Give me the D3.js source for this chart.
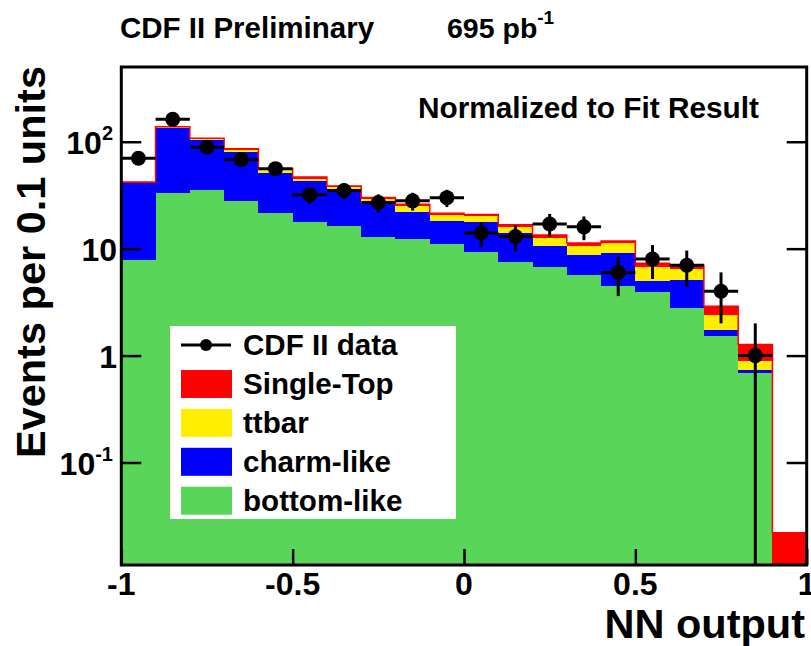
<!DOCTYPE html>
<html>
<head>
<meta charset="utf-8">
<script src="https://cdn.jsdelivr.net/npm/d3@7"></script>
<style>
  body { margin: 0; background: #fff; }
  svg text { font-family: "Liberation Sans", Arial, Helvetica, sans-serif; font-weight: bold; fill: #000; }
</style>
</head>
<body>
<div id="chart"></div>
<script>
// bins of NN output (lower edges, width 0.1)
var binLow = [-1, -0.9, -0.8, -0.7, -0.6, -0.5, -0.4, -0.3, -0.2, -0.1,
              0, 0.1, 0.2, 0.3, 0.4, 0.5, 0.6, 0.7, 0.8, 0.9];
var binWidth = 0.1;

// stacked components (per bin, not cumulative)
var bottomLike = [7.8, 33, 35, 28, 21.6, 17.8, 16.2, 12.9, 12.4, 11, 9.3, 7.5, 6.8, 5.7, 4.5, 3.9, 2.8, 1.54, 0.69, 0];
var charmLike  = [33.2, 102, 68, 53, 29.4, 25.4, 19.3, 13.2, 9.6, 7.2, 8.5, 6.4, 3.7, 3.0, 4.7, 1.1, 2.3, 0.21, 0.04, 0];
var ttbar      = [0.5, 1.5, 3, 3, 3, 2.1, 2.1, 3.2, 3.3, 2.5, 2.5, 2.2, 2.2, 2.0, 2.0, 1.7, 1.3, 0.63, 0.16, 0];
var singleTop  = [0.5, 1.5, 2, 2, 2, 1.4, 0.9, 0.8, 0.7, 0.7, 0.6, 0.6, 0.7, 0.6, 0.6, 0.6, 0.6, 0.52, 0.38, 0.022];

// CDF II data points and errors
var dataVals = [70, 162, 89, 68, 56, 32, 35, 27, 28, 30, 14, 13, 17, 16, 6, 8, 7, 4, 1, null];
var dataErr  = [8.4, 12.7, 9.4, 8.2, 7.5, 5.7, 5.9, 5.2, 5.3, 5.5, 3.7, 3.6, 4.1, 4, 2.4, 2.8, 2.6, 2, 1, null];

var xMajor = [-1, -0.5, 0, 0.5, 1];
var xTickLabels = ["-1", "-0.5", "0", "0.5", "1"];
var yTickVals = [0.1, 1, 10, 100];
var yTickBase = ["10", "1", "10", "10"];
var yTickExp  = ["-1", "", "", "2"];

var seriesKeys = ["bottom", "charm", "ttbar", "single"];
var seriesNames = {bottom: "bottom-like", charm: "charm-like", ttbar: "ttbar", single: "Single-Top"};
var colors = {bottom: "#59d659", charm: "#0000ff", ttbar: "#ffee00", single: "#ff0000"};

var W = 811, H = 646;
var margin = {top: 67, right: 4.3, bottom: 81, left: 121.3};

var svg = d3.select("#chart").append("svg")
  .attr("width", W)
  .attr("height", H);

var x = d3.scaleLinear().domain([-1, 1]).range([margin.left, W - margin.right]);
var y = d3.scaleLog().domain([0.011, 500]).range([H - margin.bottom, margin.top]).clamp(true);

var table = binLow.map(function(b, i) {
  return {lo: b, bottom: bottomLike[i], charm: charmLike[i], ttbar: ttbar[i], single: singleTop[i]};
});
var stacked = d3.stack().keys(seriesKeys)(table);

// stacked fills
svg.append("g").selectAll("g")
  .data(stacked)
  .enter().append("g")
    .attr("fill", function(d) { return colors[d.key]; })
  .selectAll("rect")
  .data(function(d) { return d; })
  .enter().append("rect")
    .attr("shape-rendering", "crispEdges")
    .attr("x", function(d) { return x(d.data.lo); })
    .attr("width", function(d) { return x(d.data.lo + binWidth) - x(d.data.lo); })
    .attr("y", function(d) { return y(d[1]); })
    .attr("height", function(d) { return Math.max(0, y(d[0]) - y(d[1])); });

// red outline of total
var total = stacked[stacked.length - 1];
var outlinePts = [[x(-1), y.range()[0]]];
total.forEach(function(d) {
  outlinePts.push([x(d.data.lo), y(d[1])]);
  outlinePts.push([x(d.data.lo + binWidth), y(d[1])]);
});
outlinePts.push([x(1), y.range()[0]]);
svg.append("path")
  .attr("d", d3.line()(outlinePts))
  .attr("fill", "none")
  .attr("stroke", "#ff0000")
  .attr("stroke-width", 1.5);

// data points
var pts = table.map(function(d, i) { return {lo: d.lo, v: dataVals[i], e: dataErr[i]}; })
  .filter(function(d) { return d.v != null; });
var gData = svg.append("g");
gData.selectAll("line.h").data(pts).enter().append("line")
  .attr("x1", function(d) { return x(d.lo); })
  .attr("x2", function(d) { return x(d.lo + binWidth); })
  .attr("y1", function(d) { return y(d.v); })
  .attr("y2", function(d) { return y(d.v); })
  .attr("stroke", "#000").attr("stroke-width", 3);
gData.selectAll("line.v").data(pts).enter().append("line")
  .attr("x1", function(d) { return x(d.lo + binWidth / 2); })
  .attr("x2", function(d) { return x(d.lo + binWidth / 2); })
  .attr("y1", function(d) { return y(d.v + d.e); })
  .attr("y2", function(d) { return y(d.v - d.e); })
  .attr("stroke", "#000").attr("stroke-width", 3);
gData.selectAll("circle").data(pts).enter().append("circle")
  .attr("cx", function(d) { return x(d.lo + binWidth / 2); })
  .attr("cy", function(d) { return y(d.v); })
  .attr("r", 7.5)
  .attr("fill", "#000");

// axes ticks (inward)
var xAll = d3.range(0, 21).map(function(i) { return -1 + i * 0.1; });
var bottomY = y.range()[0], topY = y.range()[1];
var gx = svg.append("g").attr("transform", "translate(0," + bottomY + ")");
gx.call(d3.axisTop(x).tickValues(xAll).tickSize(8).tickFormat(""));
gx.call(d3.axisTop(x).tickValues(xMajor).tickSize(16).tickFormat(""));
gx.selectAll("line").attr("stroke-width", 2.5);
gx.selectAll(".domain").remove();

var yAll = y.ticks();
var yMaj = yTickVals;
var gyl = svg.append("g").attr("transform", "translate(" + x(-1) + ",0)");
gyl.call(d3.axisRight(y).tickValues(yAll).tickSize(10).tickFormat(""));
gyl.call(d3.axisRight(y).tickValues(yMaj).tickSize(20).tickFormat(""));
var gyr = svg.append("g").attr("transform", "translate(" + x(1) + ",0)");
gyr.call(d3.axisLeft(y).tickValues(yAll).tickSize(10).tickFormat(""));
gyr.call(d3.axisLeft(y).tickValues(yMaj).tickSize(20).tickFormat(""));
svg.selectAll(".tick line").attr("stroke-width", 2.5);
svg.selectAll(".domain").remove();

// frame
svg.append("rect")
  .attr("x", x(-1)).attr("y", topY)
  .attr("width", x(1) - x(-1)).attr("height", bottomY - topY)
  .attr("fill", "none").attr("stroke", "#000").attr("stroke-width", 3);

// x tick labels
svg.append("g").selectAll("text")
  .data(xMajor)
  .enter().append("text")
    .attr("x", function(d) { return x(d); })
    .attr("y", bottomY + 30)
    .attr("text-anchor", "middle")
    .style("font-size", "32px")
    .text(function(d, i) { return xTickLabels[i]; });

// y tick labels
var yl = svg.append("g").selectAll("text")
  .data(yTickVals)
  .enter().append("text")
    .attr("x", function(d, i) { return yTickExp[i] ? 113 : 117; })
    .attr("y", function(d) { return y(d) + 12; })
    .attr("text-anchor", "end")
    .style("font-size", "32px");
yl.append("tspan").text(function(d, i) { return yTickBase[i]; });
yl.append("tspan")
  .attr("dy", -14)
  .style("font-size", "20px")
  .text(function(d, i) { return yTickExp[i]; });

// axis titles
svg.append("text")
  .attr("x", 805).attr("y", 638)
  .attr("text-anchor", "end")
  .style("font-size", "41.5px")
  .text("NN output");
svg.append("text")
  .attr("transform", "translate(45,66) rotate(-90)")
  .attr("text-anchor", "end")
  .style("font-size", "41.5px")
  .text("Events per 0.1 units");

// header texts
svg.append("text")
  .attr("x", 120).attr("y", 38)
  .style("font-size", "29.5px")
  .text("CDF II Preliminary");
var lumi = svg.append("text")
  .attr("x", 447).attr("y", 38)
  .style("font-size", "28.5px");
lumi.append("tspan").text("695 pb");
lumi.append("tspan").attr("dy", -14).style("font-size", "19px").text("-1");
svg.append("text")
  .attr("x", 759).attr("y", 118)
  .attr("text-anchor", "end")
  .style("font-size", "29.8px")
  .text("Normalized to Fit Result");

// legend
var leg = svg.append("g");
leg.append("rect")
  .attr("x", 170).attr("y", 326)
  .attr("width", 286).attr("height", 193)
  .attr("fill", "#fff");
leg.append("line")
  .attr("x1", 181).attr("x2", 231).attr("y1", 345).attr("y2", 345)
  .attr("stroke", "#000").attr("stroke-width", 3);
leg.append("circle").attr("cx", 206).attr("cy", 345).attr("r", 6).attr("fill", "#000");
leg.append("text").attr("x", 243).attr("y", 355).style("font-size", "29.6px").text("CDF II data");

var legKeys = ["single", "ttbar", "charm", "bottom"];
legKeys.forEach(function(k, i) {
  var top = 370 + i * 38.9;
  leg.append("rect")
    .attr("x", 181).attr("y", top)
    .attr("width", 51).attr("height", 28)
    .attr("fill", colors[k]);
  leg.append("text")
    .attr("x", 243).attr("y", top + 24)
    .style("font-size", "29.6px")
    .text(seriesNames[k]);
});
</script>
</body>
</html>
